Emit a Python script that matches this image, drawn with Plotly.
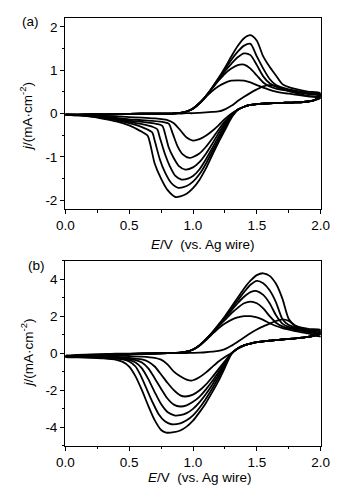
import plotly.graph_objects as go

# ---------------- data ----------------
FWD_E = [0.0, 0.2, 0.4, 0.6, 0.8, 0.9, 0.95, 1.0, 1.05, 1.1, 1.15, 1.2, 1.25, 1.3,
         1.35, 1.4, 1.45, 1.5, 1.55, 1.6, 1.65, 1.7, 1.75, 1.8, 1.9, 2.0]

# panel (a) forward scans
A1_FWD = [-0.03, -0.02, -0.01, 0.0, 0.0, 0.0, 0.01, 0.01, 0.02, 0.03, 0.04, 0.05, 0.10, 0.18,
          0.29, 0.39, 0.48, 0.56, 0.63, 0.66, 0.64, 0.58, 0.52, 0.48, 0.41, 0.36]
A2_FWD = [-0.03, -0.02, -0.01, 0.0, 0.0, 0.02, 0.05, 0.11, 0.23, 0.38, 0.52, 0.63, 0.71, 0.76,
          0.77, 0.76, 0.72, 0.66, 0.60, 0.55, 0.51, 0.48, 0.46, 0.44, 0.40, 0.37]
A3_FWD = [-0.03, -0.02, -0.01, 0.0, 0.0, 0.02, 0.05, 0.12, 0.24, 0.40, 0.58, 0.76, 0.92, 1.04,
          1.12, 1.13, 1.04, 0.88, 0.72, 0.63, 0.58, 0.55, 0.52, 0.50, 0.45, 0.41]
A4_FWD = [-0.03, -0.02, -0.01, 0.0, 0.0, 0.02, 0.05, 0.12, 0.24, 0.40, 0.59, 0.79, 0.98, 1.15,
          1.30, 1.39, 1.35, 1.12, 0.86, 0.70, 0.62, 0.57, 0.54, 0.51, 0.47, 0.43]
A5_FWD = [-0.03, -0.02, -0.01, 0.0, 0.0, 0.02, 0.05, 0.12, 0.24, 0.40, 0.60, 0.81, 1.02, 1.24,
          1.43, 1.57, 1.61, 1.32, 1.04, 0.80, 0.66, 0.60, 0.56, 0.53, 0.48, 0.45]
A6_FWD = [-0.03, -0.02, -0.01, 0.0, 0.0, 0.02, 0.05, 0.12, 0.24, 0.40, 0.60, 0.82, 1.06, 1.32,
          1.56, 1.74, 1.81, 1.68, 1.32, 1.08, 0.88, 0.68, 0.61, 0.57, 0.51, 0.47]

# panel (a) reverse scans
REV_TOP_E = [2.0, 1.95, 1.9, 1.8, 1.7, 1.6, 1.5, 1.45, 1.4, 1.35]
A_REV_TOP = [0.31, 0.28, 0.26, 0.25, 0.24, 0.22, 0.20, 0.16, 0.09]

A1_REV_E = [1.3, 1.25, 1.2, 1.15, 1.1, 1.05, 1.0, 0.95, 0.9, 0.85, 0.8, 0.7, 0.6, 0.5, 0.4, 0.3, 0.2, 0.1, 0.0]
A1_REV = [0.0, -0.12, -0.27, -0.40, -0.51, -0.59, -0.62, -0.55, -0.38, -0.22, -0.15, -0.11,
          -0.09, -0.08, -0.06, -0.05, -0.04, -0.03, -0.02]
A2_REV_E = [1.3, 1.25, 1.2, 1.15, 1.1, 1.05, 1.0, 0.97, 0.92, 0.88, 0.84, 0.81, 0.76, 0.6, 0.5, 0.4,
            0.3, 0.2, 0.1, 0.0]
A2_REV = [-0.02, -0.18, -0.37, -0.58, -0.77, -0.92, -1.00, -1.02, -0.94, -0.76, -0.45, -0.23,
          -0.19, -0.15, -0.13, -0.10, -0.07, -0.05, -0.03, -0.02]
A3_REV_E = [1.3, 1.25, 1.2, 1.15, 1.1, 1.05, 1.0, 0.94, 0.89, 0.85, 0.81, 0.78, 0.76, 0.72, 0.6, 0.5,
            0.4, 0.3, 0.2, 0.1, 0.0]
A3_REV = [-0.04, -0.23, -0.45, -0.70, -0.93, -1.12, -1.24, -1.29, -1.21, -1.03, -0.78, -0.45,
          -0.28, -0.24, -0.19, -0.16, -0.11, -0.08, -0.05, -0.03, -0.02]
A4_REV_E = [1.3, 1.25, 1.2, 1.15, 1.1, 1.05, 1.0, 0.96, 0.91, 0.86, 0.82, 0.78, 0.74, 0.72, 0.68, 0.6,
            0.5, 0.4, 0.3, 0.2, 0.1, 0.0]
A4_REV = [-0.06, -0.28, -0.53, -0.80, -1.06, -1.29, -1.44, -1.50, -1.52, -1.43, -1.22, -0.93,
          -0.55, -0.36, -0.30, -0.24, -0.19, -0.13, -0.09, -0.05, -0.03, -0.02]
A5_REV_E = [1.3, 1.25, 1.2, 1.15, 1.1, 1.05, 1.0, 0.95, 0.885, 0.83, 0.78, 0.74, 0.70, 0.68, 0.64, 0.6,
            0.55, 0.5, 0.4, 0.3, 0.2, 0.1, 0.0]
A5_REV = [-0.08, -0.33, -0.60, -0.88, -1.16, -1.40, -1.57, -1.67, -1.71, -1.60, -1.35, -1.05,
          -0.62, -0.43, -0.36, -0.31, -0.26, -0.22, -0.15, -0.10, -0.06, -0.04, -0.03]
A6_REV_E = [1.3, 1.25, 1.2, 1.15, 1.1, 1.05, 1.0, 0.95, 0.9, 0.86, 0.8, 0.75, 0.7, 0.665, 0.645, 0.6,
            0.55, 0.5, 0.4, 0.3, 0.2, 0.1, 0.0]
A6_REV = [-0.10, -0.38, -0.66, -0.96, -1.27, -1.53, -1.72, -1.85, -1.91, -1.92, -1.76, -1.50,
          -1.15, -0.70, -0.51, -0.42, -0.34, -0.27, -0.18, -0.12, -0.07, -0.04, -0.03]

# panel (b) forward scans
B1_FWD = [-0.12, -0.07, -0.03, -0.01, 0.0, 0.0, 0.01, 0.02, 0.03, 0.05, 0.08, 0.12, 0.22, 0.40,
          0.62, 0.85, 1.08, 1.28, 1.45, 1.60, 1.74, 1.83, 1.75, 1.50, 1.20, 1.05]
B2_FWD = [-0.14, -0.09, -0.05, -0.02, 0.0, 0.03, 0.08, 0.19, 0.40, 0.70, 1.03, 1.35, 1.60, 1.80,
          1.93, 2.00, 2.00, 1.93, 1.80, 1.62, 1.47, 1.36, 1.28, 1.20, 1.07, 0.90]
B3_FWD = [-0.16, -0.10, -0.06, -0.02, 0.0, 0.03, 0.08, 0.20, 0.41, 0.72, 1.07, 1.45, 1.80, 2.15,
          2.45, 2.70, 2.79, 2.70, 2.42, 2.00, 1.65, 1.45, 1.35, 1.27, 1.14, 1.02]
B4_FWD = [-0.18, -0.12, -0.06, -0.03, 0.0, 0.03, 0.08, 0.20, 0.42, 0.74, 1.10, 1.50, 1.90, 2.30,
          2.70, 3.05, 3.30, 3.36, 3.15, 2.70, 2.05, 1.60, 1.42, 1.34, 1.20, 1.10]
B5_FWD = [-0.20, -0.13, -0.07, -0.03, 0.0, 0.03, 0.08, 0.20, 0.42, 0.75, 1.11, 1.52, 1.95, 2.40,
          2.85, 3.30, 3.70, 3.91, 3.78, 3.40, 2.75, 1.85, 1.52, 1.40, 1.25, 1.18]
B6_FWD = [-0.22, -0.14, -0.08, -0.03, 0.0, 0.03, 0.08, 0.20, 0.42, 0.75, 1.12, 1.55, 2.00, 2.50,
          3.00, 3.50, 3.92, 4.22, 4.32, 4.18, 3.75, 2.95, 1.85, 1.48, 1.32, 1.26]

# panel (b) reverse scans
B_REV_TOP = [0.95, 0.88, 0.80, 0.74, 0.68, 0.60, 0.52, 0.42, 0.25]

B1_REV_E = [1.3, 1.25, 1.2, 1.15, 1.1, 1.05, 0.99, 0.95, 0.9, 0.85, 0.8, 0.75, 0.7, 0.6, 0.5, 0.4, 0.3,
            0.2, 0.1, 0.0]
B1_REV = [0.0, -0.20, -0.45, -0.75, -1.05, -1.30, -1.48, -1.43, -1.25, -1.00, -0.60, -0.35, -0.25,
          -0.18, -0.15, -0.13, -0.12, -0.12, -0.12, -0.12]
B2_REV_E = [1.3, 1.25, 1.2, 1.15, 1.1, 1.05, 1.0, 0.94, 0.9, 0.85, 0.8, 0.75, 0.7, 0.65, 0.6, 0.5, 0.4,
            0.3, 0.2, 0.1, 0.0]
B2_REV = [-0.01, -0.43, -0.86, -1.30, -1.70, -2.02, -2.24, -2.34, -2.28, -2.00, -1.60, -1.15, -0.72,
          -0.46, -0.34, -0.25, -0.20, -0.17, -0.15, -0.14, -0.14]
B3_REV_E = [1.3, 1.25, 1.2, 1.15, 1.1, 1.05, 1.0, 0.95, 0.9, 0.85, 0.8, 0.75, 0.7, 0.65, 0.6, 0.55, 0.5,
            0.4, 0.3, 0.2, 0.1, 0.0]
B3_REV = [-0.02, -0.52, -1.02, -1.52, -1.97, -2.36, -2.63, -2.82, -2.88, -2.78, -2.45, -1.92, -1.35,
          -0.82, -0.50, -0.37, -0.30, -0.23, -0.19, -0.17, -0.16, -0.16]
B4_REV_E = [1.3, 1.25, 1.2, 1.15, 1.1, 1.05, 1.0, 0.95, 0.9, 0.86, 0.8, 0.75, 0.7, 0.65, 0.6, 0.55, 0.5,
            0.4, 0.3, 0.2, 0.1, 0.0]
B4_REV = [-0.03, -0.60, -1.17, -1.72, -2.22, -2.66, -3.01, -3.24, -3.35, -3.37, -3.18, -2.75, -2.10,
          -1.40, -0.82, -0.50, -0.37, -0.27, -0.22, -0.20, -0.19, -0.18]
B5_REV_E = [1.3, 1.25, 1.2, 1.15, 1.1, 1.05, 1.0, 0.95, 0.9, 0.83, 0.78, 0.73, 0.68, 0.63, 0.59, 0.55,
            0.5, 0.45, 0.4, 0.3, 0.2, 0.1, 0.0]
B5_REV = [-0.04, -0.68, -1.32, -1.92, -2.47, -2.96, -3.36, -3.63, -3.79, -3.84, -3.68, -3.28, -2.60,
          -1.82, -1.20, -0.72, -0.45, -0.34, -0.29, -0.24, -0.22, -0.21, -0.20]
B6_REV_E = [1.3, 1.25, 1.2, 1.15, 1.1, 1.05, 1.0, 0.95, 0.9, 0.85, 0.79, 0.75, 0.7, 0.65, 0.6, 0.55,
            0.5, 0.45, 0.4, 0.3, 0.2, 0.1, 0.0]
B6_REV = [-0.05, -0.78, -1.50, -2.12, -2.70, -3.20, -3.65, -3.97, -4.18, -4.27, -4.29, -4.15, -3.62,
          -2.85, -2.00, -1.25, -0.72, -0.47, -0.36, -0.28, -0.25, -0.23, -0.22]

X_TICKS = [0.0, 0.5, 1.0, 1.5, 2.0]
X_TICK_TEXT = ["0.0", "0.5", "1.0", "1.5", "2.0"]
YA_TICKS = [-2, -1, 0, 1, 2]
YA_TICK_TEXT = ["-2", "-1", "0", "1", "2"]
YB_TICKS = [-4, -2, 0, 2, 4]
YB_TICK_TEXT = ["-4", "-2", "0", "2", "4"]

# ---------------- figure ----------------
W, H = 349, 496
FONT = "Liberation Sans, Arial, Helvetica, sans-serif"

fig = go.Figure()


def add_cycle(fwd, rev_top, rev_e, rev_j, xa, ya):
    e = list(FWD_E) + list(REV_TOP_E[1:]) + list(rev_e)
    j = list(fwd) + list(rev_top) + list(rev_j)
    fig.add_trace(go.Scatter(
        x=e, y=j, mode="lines", xaxis=xa, yaxis=ya, showlegend=False,
        line=dict(color="black", width=1.8, shape="spline", smoothing=0.7),
        hoverinfo="skip"))


A_SETS = [(A1_FWD, A1_REV_E, A1_REV), (A2_FWD, A2_REV_E, A2_REV), (A3_FWD, A3_REV_E, A3_REV),
          (A4_FWD, A4_REV_E, A4_REV), (A5_FWD, A5_REV_E, A5_REV), (A6_FWD, A6_REV_E, A6_REV)]
B_SETS = [(B1_FWD, B1_REV_E, B1_REV), (B2_FWD, B2_REV_E, B2_REV), (B3_FWD, B3_REV_E, B3_REV),
          (B4_FWD, B4_REV_E, B4_REV), (B5_FWD, B5_REV_E, B5_REV), (B6_FWD, B6_REV_E, B6_REV)]

for fwd, re_, rj in A_SETS:
    add_cycle(fwd, A_REV_TOP, re_, rj, "x", "y")
for fwd, re_, rj in B_SETS:
    add_cycle(fwd, B_REV_TOP, re_, rj, "x2", "y2")


def px(x):
    return x / W


def py(y):
    return 1 - y / H


common = dict(showline=True, linecolor="black", linewidth=1.4, mirror=True,
              ticks="outside", ticklen=4, tickwidth=1.2, tickcolor="black",
              showgrid=False, zeroline=False, automargin=False,
              tickfont=dict(family=FONT, size=13.5, color="black"))

xdom = [px(65.3), px(320.7)]
xa = dict(common, domain=xdom, range=[0, 2], tickvals=X_TICKS, ticktext=X_TICK_TEXT,
          minor=dict(ticks="outside", ticklen=2.5, tickwidth=1, tickcolor="black", dtick=0.25,
                     tick0=0, showgrid=False))

fig.update_layout(
    width=W, height=H, autosize=False, margin=dict(l=0, r=0, t=0, b=0, pad=0),
    paper_bgcolor="white", plot_bgcolor="white",
    xaxis=dict(xa, anchor="y"),
    yaxis=dict(common, domain=[py(209), py(18.3)], range=[-2.2, 2.2], anchor="x",
               tickvals=YA_TICKS, ticktext=YA_TICK_TEXT,
               minor=dict(ticks="outside", ticklen=2.5, tickwidth=1, tickcolor="black",
                          dtick=0.5, tick0=0, showgrid=False)),
    xaxis2=dict(xa, anchor="y2"),
    yaxis2=dict(common, domain=[py(445.7), py(260.7)], range=[-5, 5], anchor="x2",
                tickvals=YB_TICKS, ticktext=YB_TICK_TEXT,
                minor=dict(ticks="outside", ticklen=2.5, tickwidth=1, tickcolor="black",
                           dtick=1, tick0=0, showgrid=False)),
)

ann_font = dict(family=FONT, size=13.5, color="black")
anns = [
    dict(text="(a)", x=px(30.5), y=py(21), xanchor="center", yanchor="middle"),
    dict(text="(b)", x=px(36), y=py(265), xanchor="center", yanchor="middle"),
    dict(text="<i>j</i>/(mA·cm<sup>-2</sup>)", x=px(26), y=py(117), textangle=-90,
         xanchor="center", yanchor="middle"),
    dict(text="<i>j</i>/(mA·cm<sup>-2</sup>)", x=px(27.5), y=py(353), textangle=-90,
         xanchor="center", yanchor="middle"),
    dict(text="<i>E</i>/V  (vs. Ag wire)", x=px(203), y=py(245), xanchor="center", yanchor="middle"),
    dict(text="<i>E</i>/V  (vs. Ag wire)", x=px(200), y=py(477), xanchor="center", yanchor="middle"),
]
for a in anns:
    fig.add_annotation(xref="paper", yref="paper", showarrow=False, font=ann_font, **a)

fig.write_html(
    "out.html",
    config={"displayModeBar": False, "responsive": False},
    post_script=("document.documentElement.style.overflow='hidden';"
                 "document.body.style.overflow='hidden';"
                 "document.body.style.margin='0';"),
)
